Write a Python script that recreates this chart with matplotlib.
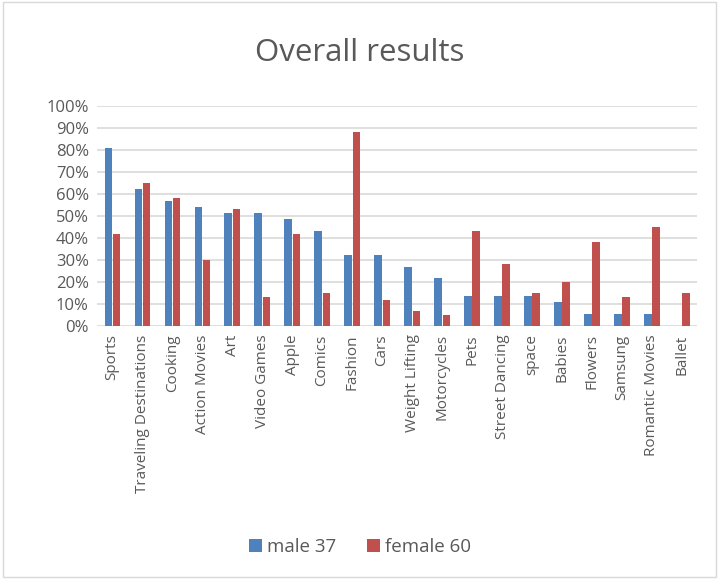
import numpy as np
import matplotlib
matplotlib.use("Agg")
import matplotlib.pyplot as plt
from matplotlib.patches import Rectangle
from matplotlib.ticker import PercentFormatter

categories = ["Sports", "Traveling Destinations", "Cooking", "Action Movies", "Art",
              "Video Games", "Apple", "Comics", "Fashion", "Cars", "Weight Lifting",
              "Motorcycles", "Pets", "Street Dancing", "space", "Babies", "Flowers",
              "Samsung", "Romantic Movies", "Ballet"]
# counts out of 37 males / 60 females
male_counts = [30, 23, 21, 20, 19, 19, 18, 16, 12, 12, 10, 8, 5, 5, 5, 4, 2, 2, 2, 0]
female_counts = [25, 39, 35, 18, 32, 8, 25, 9, 53, 7, 4, 3, 26, 17, 9, 12, 23, 8, 27, 9]
male = np.array(male_counts) / 37 * 100
female = np.array(female_counts) / 60 * 100

plt.rcParams['font.family'] = ['Open Sans', 'DejaVu Sans']
txt = '#595959'

fig = plt.figure(figsize=(7.2, 5.79), dpi=100)
ax = fig.add_axes([0.135, 0.437, 0.833, 0.38])

x = np.arange(len(categories))
w = 0.24
ax.bar(x - 0.135, male, w, color='#4F81BD', label='male 37', zorder=3)
ax.bar(x + 0.135, female, w, color='#C0504D', label='female 60', zorder=3)

ax.set_xlim(-0.5, len(categories) - 0.5)
ax.set_ylim(0, 100)
ax.set_yticks(np.arange(0, 101, 10))
ax.yaxis.set_major_formatter(PercentFormatter(decimals=0))
ax.grid(axis='y', color='#d9d9d9', linewidth=1.2, zorder=0)
for s in ax.spines.values():
    s.set_visible(False)
ax.tick_params(length=0, colors=txt)
ax.tick_params(axis='y', labelsize=12, pad=6)
ax.set_xticks(x)
ax.set_xticklabels(categories, rotation=90, fontsize=11, color=txt)
ax.tick_params(axis='x', pad=6)

fig.text(0.5, 0.908, 'Overall results', ha='center', va='center', fontsize=22.5, color=txt)

leg = fig.legend(loc='center', bbox_to_anchor=(0.5, 0.055), ncol=2, frameon=False,
                 fontsize=13.5, handlelength=0.7, handleheight=0.7, handletextpad=0.3,
                 columnspacing=1.6)
for t in leg.get_texts():
    t.set_color(txt)

fig.patches.append(Rectangle((0.004, 0.004), 0.99, 0.992, transform=fig.transFigure,
                             fill=False, edgecolor='#d9d9d9', linewidth=1))

fig.savefig('out.png', dpi=100)
